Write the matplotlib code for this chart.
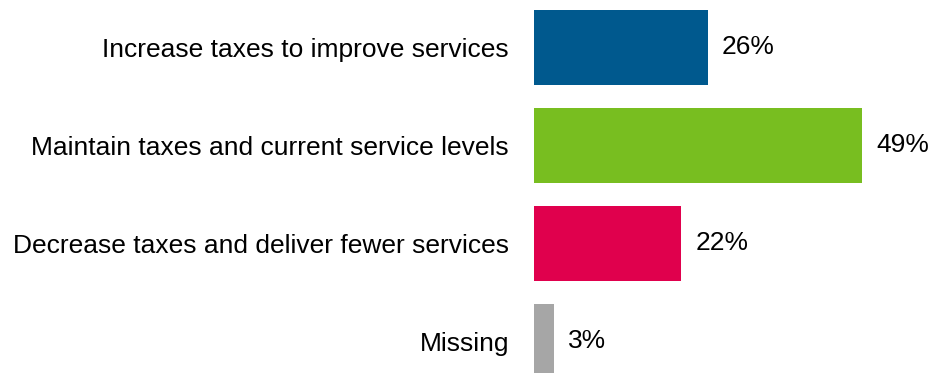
import matplotlib.pyplot as plt

# данные
categories = ['Increase taxes to improve services',
              'Maintain taxes and current service levels',
              'Decrease taxes and deliver fewer services',
              'Missing']
values = [26, 49, 22, 3]
colors = ['#00598E', '#78BE20', '#E0004D', '#A6A6A6']

plt.rcParams['font.family'] = ['Liberation Sans', 'DejaVu Sans']

fig = plt.figure(figsize=(9.34, 3.73), dpi=100)
ax = fig.add_axes([534 / 934, 0, 400 / 934, 1])

pos = range(len(categories))
ax.barh(pos, values, height=75 / 98, color=colors)
ax.set_xlim(0, 400 / 6.7)
ax.set_ylim((373 - 47.5) / 98, -47.5 / 98)

for y, v in zip(pos, values):
    ax.annotate(f'{v}%', (v, y), xytext=(10, 0), textcoords='offset points',
                va='center', ha='left', fontsize=19, color='#000000')

ax.set_yticks(list(pos))
ax.set_yticklabels(categories, fontsize=19)
ax.tick_params(axis='y', length=0, pad=18)
ax.set_xticks([])
for s in ax.spines.values():
    s.set_visible(False)

fig.savefig('out.png', dpi=100)
